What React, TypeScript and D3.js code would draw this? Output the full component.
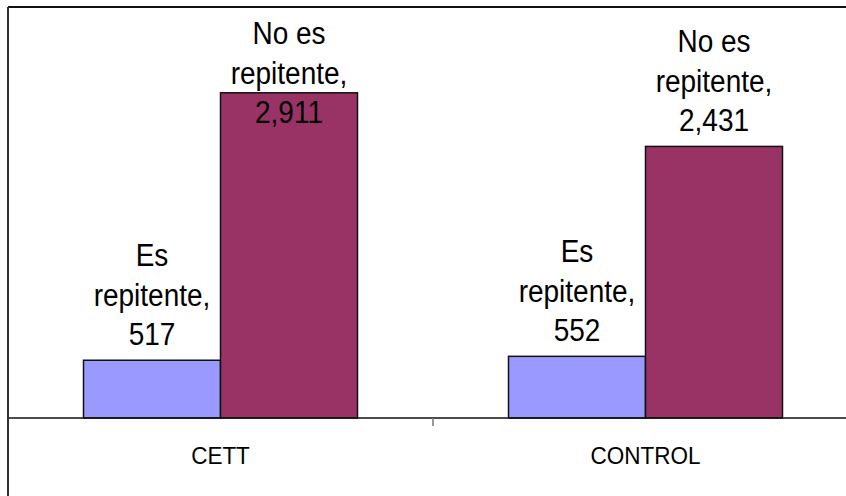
import React from "react";
import * as d3 from "d3";

const categories = ["CETT", "CONTROL"];
const seriesNames = ["Es repitente", "No es repitente"];
const esRepitente = [517, 552];
const noEsRepitente = [2911, 2431];
const labelLines = [
  ["Es", "repitente,"],
  ["No es", "repitente,"],
];
const colors = ["#9999FF", "#993366"];

const W = 846;
const H = 496;
const plotLeft = 8;
const plotRight = 858;
const baseY = 418;
const plotTop = 27;
const fmt = d3.format(",");

export default function App() {
  const x = d3.scaleBand<string>().domain(categories).range([plotLeft, plotRight]).paddingInner(0).paddingOuter(0);
  const bw = x.bandwidth();
  const groupW = bw * (274 / 425);
  const xs = d3.scaleBand<string>().domain(seriesNames).range([0, groupW]).padding(0);
  const y = d3.scaleLinear().domain([0, 3500]).range([baseY, plotTop]);
  const series = [esRepitente, noEsRepitente];
  const font = "'Liberation Sans', Arial, sans-serif";
  const lineH = 39.5;

  return (
    <div style={{ position: "fixed", left: 0, top: 0 }}>
      <svg width={W} height={H} style={{ display: "block", background: "#fff" }}>
        <rect x={0} y={0} width={W} height={H} fill="#fff" />
        {categories.map((c, ci) => {
          const gx = (x(c) as number) + (bw - groupW) / 2;
          return series.map((vals, si) => {
            const v = vals[ci];
            const bx = gx + (xs(seriesNames[si]) as number);
            const by = y(v);
            return (
              <rect key={c + si} x={bx} y={by} width={xs.bandwidth()} height={baseY - by}
                fill={colors[si]} stroke="#111" strokeWidth={1.5} />
            );
          });
        })}
        <line x1={plotLeft} x2={W} y1={baseY} y2={baseY} stroke="#111" strokeWidth={1.5} />
        {categories.slice(1).map((c) => (
          <line key={c} x1={x(c) as number} x2={x(c) as number} y1={baseY} y2={baseY + 8} stroke="#777" strokeWidth={1.5} />
        ))}
        {categories.map((c, ci) => {
          const gx = (x(c) as number) + (bw - groupW) / 2;
          return series.map((vals, si) => {
            const v = vals[ci];
            const cx = gx + (xs(seriesNames[si]) as number) + xs.bandwidth() / 2;
            const lines = [...labelLines[si], fmt(v)];
            const lastBase = Math.max(y(v) - 15, 44 + lineH * 2);
            return lines.map((t, li) => (
              <text key={c + si + li}
                transform={`translate(${cx},${lastBase - (lines.length - 1 - li) * lineH}) scale(1,1.1)`}
                textAnchor="middle" fontFamily={font} fontSize={28} fill="#000">{t}</text>
            ));
          });
        })}
        {categories.map((c) => (
          <text key={c} transform={`translate(${(x(c) as number) + bw / 2},464) scale(1,1.1)`}
            textAnchor="middle" fontFamily={font} fontSize={22.5} fill="#000">{c}</text>
        ))}
        <line x1={plotLeft} x2={W} y1={7} y2={7} stroke="#111" strokeWidth={2} />
        <line x1={plotLeft} x2={plotLeft} y1={7} y2={H} stroke="#333" strokeWidth={2} />
      </svg>
    </div>
  );
}
